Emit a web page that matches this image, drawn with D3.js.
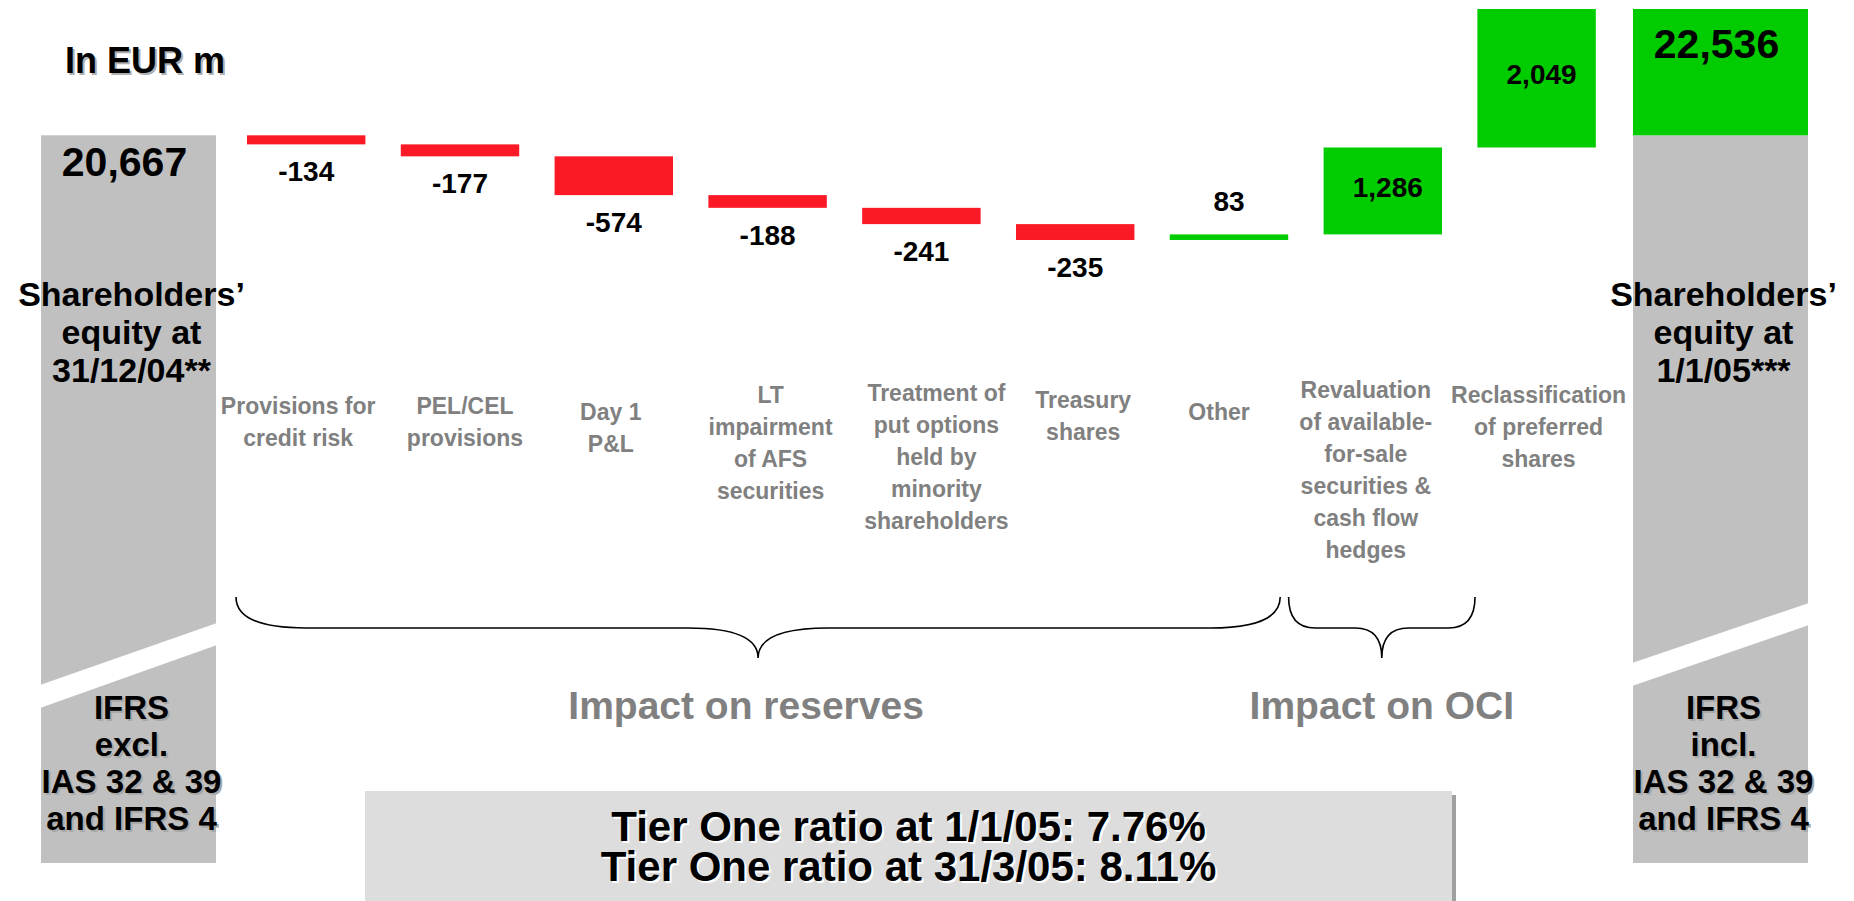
<!DOCTYPE html>
<html>
<head>
<meta charset="utf-8">
<title>Shareholders' equity: IAS 32 & 39 and IFRS 4 transition</title>
<style>
  body { margin: 0; background: #fff; }
  svg { display: block; font-family: "Liberation Sans", Arial, sans-serif; font-weight: bold; }
</style>
</head>
<body>
<div id="chart"></div>
<script src="https://d3js.org/d3.v7.min.js"></script>
<script>
  // ---- data ----
  const unitLabel = "In EUR m";
  const startValue = 20667;
  const endValue = 22536;
  const startLabel = ["Shareholders’", "equity at", "31/12/04**"];
  const endLabel = ["Shareholders’", "equity at", "1/1/05***"];
  const startBasis = ["IFRS", "excl.", "IAS 32 & 39", "and IFRS 4"];
  const endBasis = ["IFRS", "incl.", "IAS 32 & 39", "and IFRS 4"];
  const categories = [
    ["Provisions for", "credit risk"],
    ["PEL/CEL", "provisions"],
    ["Day 1", "P&L"],
    ["LT", "impairment", "of AFS", "securities"],
    ["Treatment of", "put options", "held by", "minority", "shareholders"],
    ["Treasury", "shares"],
    ["Other"],
    ["Revaluation", "of available-", "for-sale", "securities &", "cash flow", "hedges"],
    ["Reclassification", "of preferred", "shares"]
  ];
  const deltas = [-134, -177, -574, -188, -241, -235, 83, 1286, 2049];
  const groupNames = ["Impact on reserves", "Impact on OCI"];
  const groupFirst = [0, 7];
  const groupLast = [6, 7];
  const ratioLines = ["Tier One ratio at 1/1/05: 7.76%", "Tier One ratio at 31/3/05: 8.11%"];

  // ---- layout ----
  const width = 1854, height = 901;
  const red = "#fc1926", green = "#00cc00", colGray = "#c0c0c0", txtGray = "#808080";
  const fmt = d3.formatLocale({ decimal: ".", thousands: ",", grouping: [3], currency: ["", ""], minus: "-" }).format(",");

  // per-category nudges of the text boxes (as placed on the slide)
  const catDx = [-8, 5, -3, 3, 15, 8, -10, -17, 2];
  const catY = [414, 414, 420, 403, 401, 408, 420, 398, 403];

  const svg = d3.select("#chart").append("svg")
    .attr("width", width)
    .attr("height", height);

  // running totals for the waterfall
  let run = startValue;
  const steps = deltas.map((d, i) => {
    const s = { i, d, from: run, to: run + d };
    run += d;
    return s;
  });
  const lo = d3.min(steps, s => Math.min(s.from, s.to));

  const y = d3.scaleLinear().domain([lo, endValue]).range([240, 9]);
  const x = d3.scaleBand().domain(d3.range(deltas.length))
    .range([229.3, 1613.5]).paddingInner(0.23).paddingOuter(0.115);
  const bw = x.bandwidth();

  const totX = d3.scaleOrdinal().domain(["start", "end"]).range([41, 1633]);
  const totW = 175;
  const colBottom = 863;

  // text with an offset shadow copy underneath
  function label(g, tx, ty, str, size, fill, anchor, shadow) {
    if (shadow) {
      g.append("text").attr("x", tx + 2).attr("y", ty + 2)
        .attr("text-anchor", anchor).style("font-size", size + "px")
        .attr("fill", shadow).text(str);
    }
    return g.append("text").attr("x", tx).attr("y", ty)
      .attr("text-anchor", anchor).style("font-size", size + "px")
      .attr("fill", fill).text(str);
  }

  // unit
  label(svg, 65, 73, unitLabel, 36, "#000", "start", "#b0b0b0");

  // ---- total columns ----
  const totals = [
    { key: "start", lines: startLabel, basis: startBasis, brk: [685, 623] },
    { key: "end", lines: endLabel, basis: endBasis, brk: [663, 603] }
  ];
  totals.forEach(t => {
    const x0 = totX(t.key), x1 = x0 + totW, cx = x0 + totW / 2;
    svg.append("rect").attr("x", x0).attr("y", y(startValue))
      .attr("width", totW).attr("height", colBottom - y(startValue))
      .attr("fill", colGray);
    if (t.key === "end") {
      svg.append("rect").attr("x", x0).attr("y", y(endValue))
        .attr("width", totW).attr("height", y(startValue) - y(endValue))
        .attr("fill", green);
    }
    // white diagonal break
    svg.append("polygon")
      .attr("points", [[x0 - 1, t.brk[0]], [x1 + 1, t.brk[1]], [x1 + 1, t.brk[1] + 22], [x0 - 1, t.brk[0] + 23]].join(" "))
      .attr("fill", "#fff");

    const v = t.key === "start" ? startValue : endValue;
    label(svg, cx - 4, y(v) + (t.key === "start" ? 41 : 49), fmt(v), 41, "#000", "middle");

    t.lines.forEach((ln, k) => label(svg, cx + 3, 306 + k * 38, ln, 34, "#000", "middle"));
    t.basis.forEach((ln, k) => label(svg, cx + 3, 719 + k * 37, ln, 33, "#000", "middle", "#a8a8a8"));
  });

  // ---- delta bars ----
  const bars = svg.append("g");
  steps.forEach(s => {
    const top = y(Math.max(s.from, s.to)), bot = y(Math.min(s.from, s.to));
    bars.append("rect")
      .attr("x", x(s.i)).attr("y", top)
      .attr("width", bw).attr("height", bot - top)
      .attr("fill", s.d < 0 ? red : green);

    const cx = x(s.i) + bw / 2;
    let ly;
    if (s.d < 0) ly = bot + 37;
    else if (bot - top < 40) ly = top - 23;
    else ly = (top + bot) / 2 + 6;
    label(bars, cx + (s.d > 1000 ? 5 : 0), ly, fmt(s.d), 28, "#000", "middle");

    categories[s.i].forEach((ln, k) =>
      label(bars, cx + catDx[s.i], catY[s.i] + k * 32, ln, 23, txtGray, "middle"));
  });

  // ---- braces ----
  function brace(x1, x2, yTop, yMid, yTip) {
    const cx = (x1 + x2) / 2, r = Math.min(70, (x2 - x1) / 7);
    return `M${x1},${yTop} Q${x1},${yMid} ${x1 + r},${yMid} L${cx - r},${yMid} ` +
      `Q${cx},${yMid} ${cx},${yTip} Q${cx},${yMid} ${cx + r},${yMid} ` +
      `L${x2 - r},${yMid} Q${x2},${yMid} ${x2},${yTop}`;
  }
  const bracePad = [[11, -8], [35, 33]];
  groupNames.forEach((name, gi) => {
    const x1 = x(groupFirst[gi]) - bracePad[gi][0];
    const x2 = x(groupLast[gi]) + bw + bracePad[gi][1];
    svg.append("path").attr("d", brace(x1, x2, 597, 628, 658))
      .attr("fill", "none").attr("stroke", "#000").attr("stroke-width", 1.6);
    label(svg, (x1 + x2) / 2 - (gi === 0 ? 12 : 0), 719, name, 39, txtGray, "middle");
  });

  // ---- Tier One box ----
  const box = { x: 365, y: 791, w: 1087, h: 130 };
  svg.append("rect").attr("x", box.x + 4).attr("y", box.y + 4)
    .attr("width", box.w).attr("height", box.h).attr("fill", "#a0a0a0");
  svg.append("rect").attr("x", box.x).attr("y", box.y)
    .attr("width", box.w).attr("height", box.h).attr("fill", "#dddddd");
  ratioLines.forEach((ln, k) =>
    label(svg, box.x + box.w / 2, 841 + k * 40, ln, 42, "#000", "middle", "#ffffff"));
</script>
</body>
</html>
